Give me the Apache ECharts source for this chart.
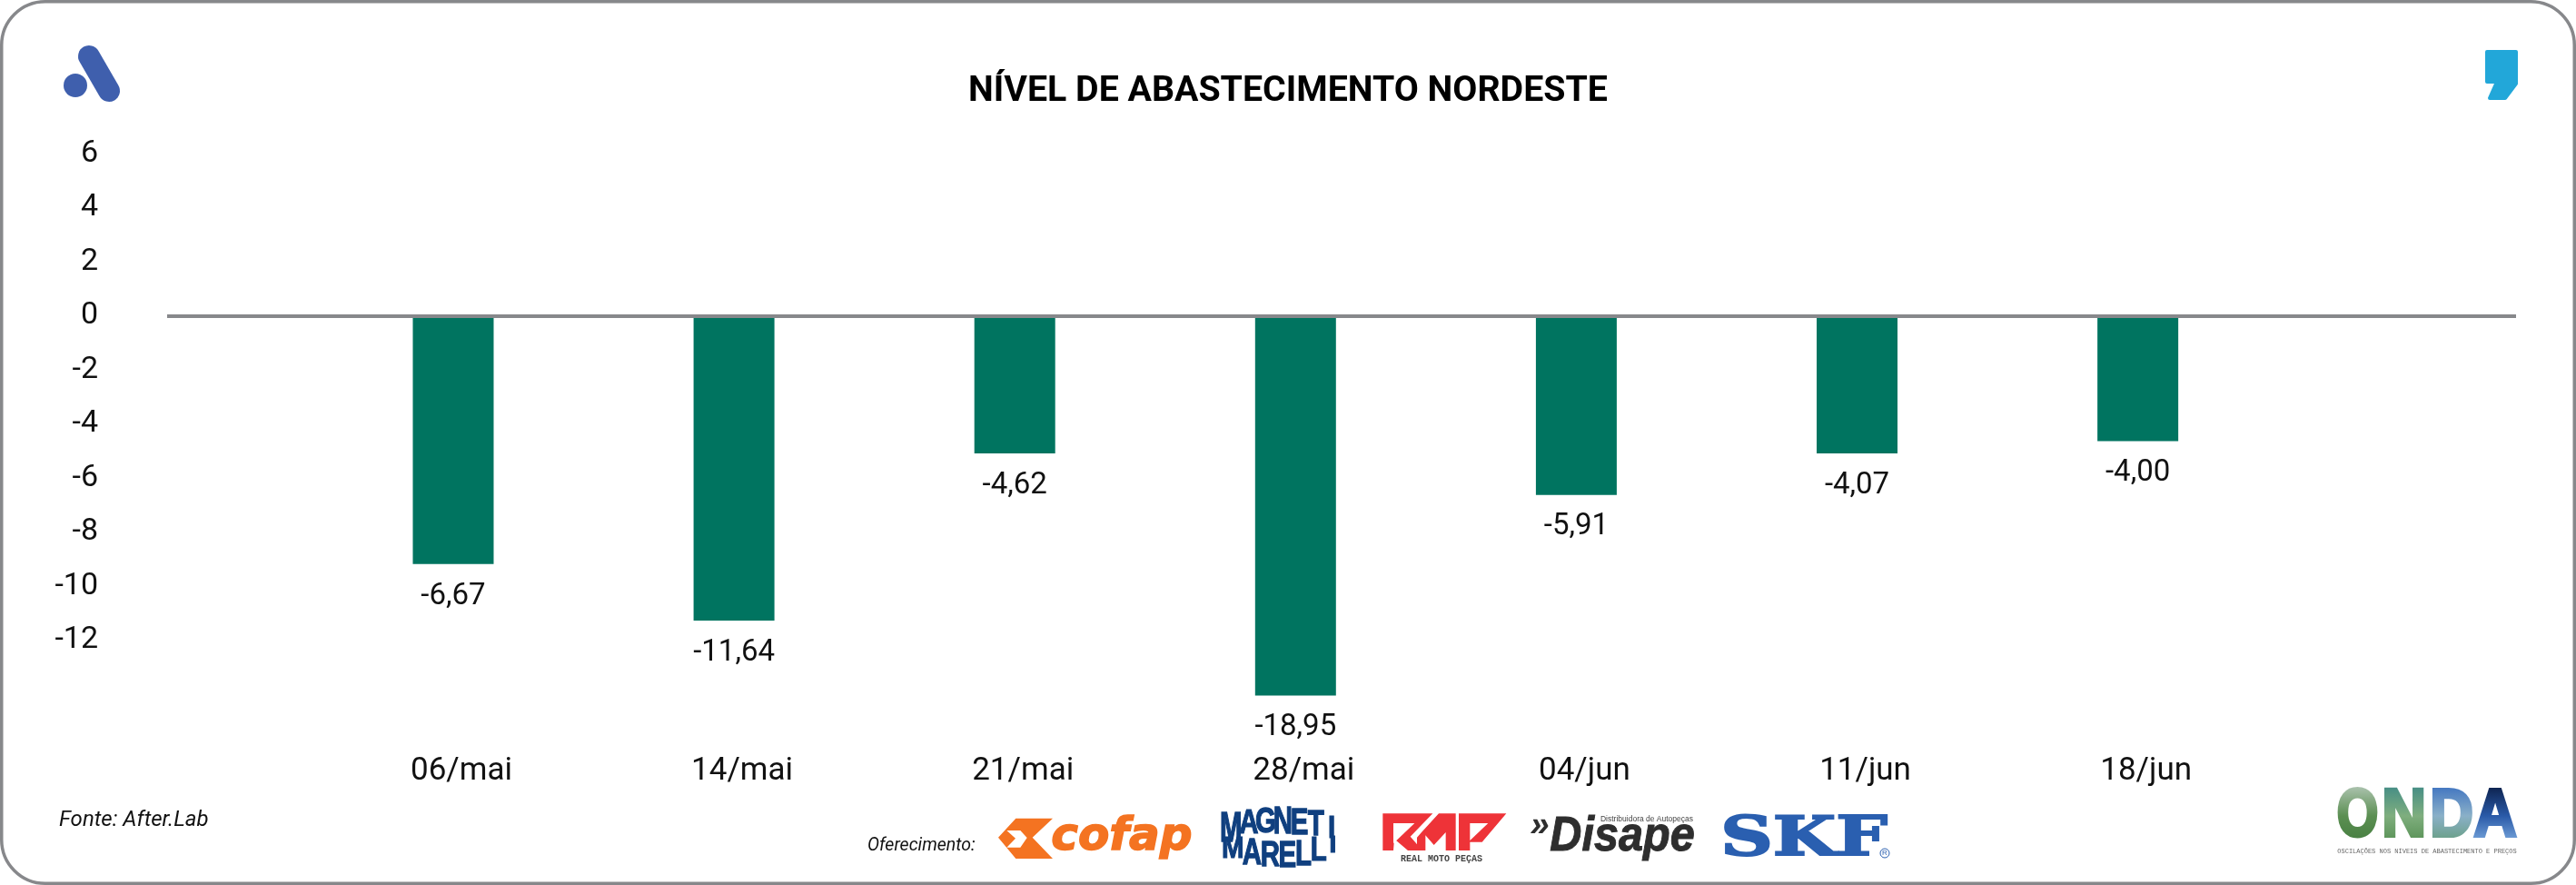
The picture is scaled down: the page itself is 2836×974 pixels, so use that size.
<!DOCTYPE html>
<html><head><meta charset="utf-8">
<style>html,body{margin:0;padding:0;background:#fff}#c{width:2836px;height:974px}</style>
<script src="https://cdn.jsdelivr.net/npm/echarts@6/dist/echarts.min.js"></script>
</head><body><div id="c"></div>
<script>
const titleText = 'NÍVEL DE ABASTECIMENTO NORDESTE';
const categories = ['06/mai','14/mai','21/mai','28/mai','04/jun','11/jun','18/jun'];
const barHeights = [-9.18,-11.27,-5.08,-14.05,-6.62,-5.08,-4.63];
const barLabels = ['-6,67','-11,64','-4,62','-18,95','-5,91','-4,07','-4,00'];
const yTicks = [6,4,2,0,-2,-4,-6,-8,-10,-12];
const sourceText = 'Fonte: After.Lab';
const sponsorText = 'Oferecimento:';

const chart = echarts.init(document.getElementById('c'), null, {renderer:'canvas', width:2836, height:974});
const FONT = 'Roboto, sans-serif';
const NARROW = '"Liberation Sans Narrow","Liberation Sans"';
const g = [];
const txt = (text,x,y,font,fill,extra={},el={}) => g.push(Object.assign({type:'text',x,y,silent:true,style:Object.assign({text,x:0,y:0,font,fill,textAlign:'center',textVerticalAlign:'middle'},extra)},el));
const poly = (points,fill,extra={}) => g.push({type:'polygon',silent:true,shape:{points},style:Object.assign({fill},extra)});
const zoomed = (pts,ox,oy) => pts.map(([x,y])=>[ox+x/3,oy+y/3]);

// frame
g.push({type:'rect',silent:true,shape:{x:1.75,y:1.75,width:2832.5,height:970.5,r:48},style:{fill:'none',stroke:'#87888b',lineWidth:3.5}});
// brand "A"
g.push({type:'line',silent:true,shape:{x1:98,y1:62,x2:120,y2:100},style:{stroke:'#3f5fad',lineWidth:24,lineCap:'round'}});
g.push({type:'circle',silent:true,shape:{cx:83,cy:94,r:13},style:{fill:'#3f5fad'}});
// quote mark
poly([[2738,57],[2770,57],[2770,92],[2758,108],[2741,108],[2749,90],[2738,90]],'#22a7d9',{stroke:'#22a7d9',lineWidth:4,lineJoin:'round'});
// source + sponsors
txt(sourceText,65,903,'italic 24px '+FONT,'#111',{textAlign:'left'});
txt(sponsorText,955,931,'italic 19.5px '+FONT,'#111',{textAlign:'left'});
// cofap
poly(zoomed([[27,95],[85,32],[207,32],[140,95],[207,165],[85,165]],1090,890),'#f47321');
poly(zoomed([[55,72],[100,72],[122,96],[100,128],[55,128],[84,98]],1090,890),'#fff');
txt('cofap',1235,922,'italic bold 50px "DejaVu Sans"','#f47321',{stroke:'#f47321',lineWidth:1.5});
// Magneti Marelli: [letter, x centre, top, bottom] as seen in the logo
[['M',76,50,150],['A',135,40,120],['G',190,32,118],['N',247,30,122],['E',302,35,125],['T',356,42,128],['I',408,60,135],
 ['M',82,128,200],['A',145,135,222],['R',205,145,230],['E',262,145,232],['L',315,140,225],['L',365,130,210],['I',412,125,180]]
.forEach(([ch,x,t,b])=>{
  txt(ch,1330+x/3,880+(t+b)/6,'bold 31px '+NARROW,'#0f3f7f',{stroke:'#0f3f7f',lineWidth:1},{scaleY:(b-t)/3/22.5,scaleX:0.95});
});
// RMP mark
const rmp = p => zoomed(p,1330,880);
poly(rmp([[577,46],[742,46],[668,122],[708,168],[660,168],[615,130],[612,168],[577,168]]),'#ee3338');
poly(rmp([[612,78],[682,78],[612,145]]),'#fff');
poly(rmp([[705,108],[762,46],[818,46],[818,168],[785,168],[785,108],[746,150],[718,118],[718,168],[690,168],[690,125]]),'#ee3338');
poly(rmp([[828,46],[985,46],[905,140],[865,140],[865,168],[828,168]]),'#ee3338');
poly(rmp([[865,78],[925,78],[865,135]]),'#fff');
txt('REAL MOTO PEÇAS',1587,945,'bold 10px "Liberation Mono"','#444');
// Disape
txt('»',1695,910,'italic bold 38px "Liberation Sans"','#2e2e2e');
txt('Disape',1786,921,'italic bold 54px "Liberation Sans"','#2e2e2e',{stroke:'#2e2e2e',lineWidth:1},{scaleX:0.9});
txt('Distribuidora de Autopeças',1813,902,'8.5px '+NARROW,'#444');
// SKF
txt('SKF',1986,925,'bold 60px "DejaVu Serif"','#2a5fb0',{stroke:'#2a5fb0',lineWidth:2},{scaleX:1.33});
g.push({type:'circle',silent:true,shape:{cx:2075,cy:939,r:5},style:{fill:'none',stroke:'#2a5fb0',lineWidth:1}});
txt('R',2075,939,'8px "Liberation Sans"','#2a5fb0');
// ONDA: black glyphs, then a screen-blended gradient panel that only colours the glyphs
const ondaLetters = [
  {ch:'O',x:2595.5,sx:0.78,x0:2562,w:58.5,c:['#b4c8b8','#5b8f52','#417a3c']},
  {ch:'N',x:2646.5,sx:0.9,x0:2620.5,w:53.5,c:['#3f8a86','#7fae7e','#4e8a4a']},
  {ch:'D',x:2699,sx:0.88,x0:2674,w:48,c:['#3a6fc0','#8ab0c8','#5f9a70']},
  {ch:'A',x:2747,sx:0.87,x0:2722,w:58,c:['#0a1c44','#2a5aa8','#8ab8e8']}
];
ondaLetters.forEach(l=>txt(l.ch,l.x,899,'bold 75px "Liberation Sans"','#000',{stroke:'#000',lineWidth:4,lineJoin:'round'},{scaleX:l.sx}));
ondaLetters.forEach(l=>g.push({type:'rect',silent:true,shape:{x:l.x0,y:862,width:l.w,height:72},
  style:{blend:'screen',fill:{type:'linear',x:0,y:0,x2:0,y2:1,colorStops:l.c.map((color,i)=>({offset:i/(l.c.length-1),color}))}}}));
txt('OSCILAÇÕES NOS NÍVEIS DE ABASTECIMENTO E PREÇOS',2672,937,'7px "Liberation Mono"','#666');

chart.setOption({
  animation:false,
  backgroundColor:'#fff',
  title:{text:titleText,left:'center',top:77,textStyle:{fontFamily:FONT,fontWeight:'bold',fontSize:39.3,color:'#000'}},
  grid:{left:184,right:66,top:169.5,bottom:150.5,containLabel:false},
  xAxis:{type:'value',min:-1.019,max:7.347,
    splitLine:{show:false},axisLine:{show:false},axisTick:{show:false},
    axisLabel:{customValues:categories.map((_,i)=>i),formatter:v=>categories[v]??'',
      fontFamily:FONT,fontSize:35,color:'#111',margin:8,padding:[0,0,0,18],hideOverlap:false}},
  yAxis:{type:'value',min:-16,max:6,interval:2,
    splitLine:{show:false},axisLine:{show:false},axisTick:{show:false},
    axisLabel:{customValues:yTicks,fontFamily:FONT,fontSize:34,color:'#111',margin:76,padding:[0,0,12,0],align:'right'}},
  series:[{type:'bar',barWidth:89,clip:false,
    data:barHeights.map((v,i)=>[i,v]),
    itemStyle:{color:'#007460'},
    label:{show:true,position:'bottom',distance:19,fontFamily:FONT,fontSize:33,color:'#111',
      formatter:p=>barLabels[p.dataIndex]},
    markLine:{silent:true,symbol:'none',animation:false,label:{show:false},
      lineStyle:{color:'#87888b',width:4,type:'solid'},data:[{yAxis:0}]}
  }],
  graphic:g
});
</script></body></html>
